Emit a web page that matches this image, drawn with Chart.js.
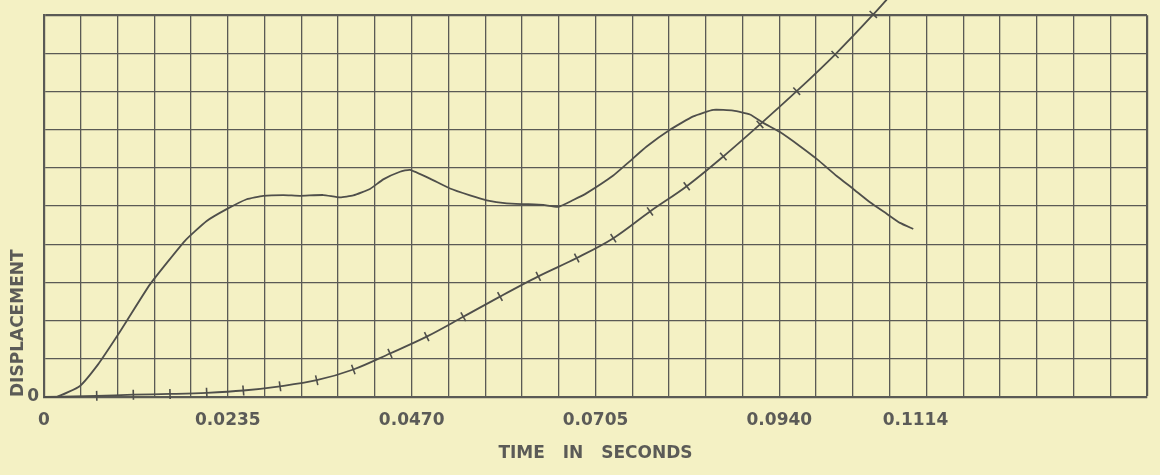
<!DOCTYPE html>
<html>
<head>
<meta charset="utf-8">
<script src="https://cdn.jsdelivr.net/npm/chart.js@4.4.1/dist/chart.umd.min.js"></script>
<style>
  html, body { margin: 0; padding: 0; background: #f3f0c4; }
  canvas { display: block; }
</style>
</head>
<body>
<canvas id="chart" width="1160" height="475"></canvas>
<script>
// Graph paper: one division = 0.0047 s, 30 divisions across, 10 up
const gridStep = 0.0047;
const gridCount = 30;
const dispMax = 10;

// Labelled time ticks
const tickValues = [0, 0.0235, 0.0470, 0.0705, 0.0940, 0.1114];
const tickLabels = ['0', '0.0235', '0.0470', '0.0705', '0.0940', '0.1114'];

// Smooth displacement trace
const traceTime = [
  0, 0.00162, 0.0046, 0.00694, 0.00908, 0.01057, 0.01355, 0.01802, 0.0208,
  0.02335, 0.02591, 0.02803, 0.03059, 0.03272, 0.0357, 0.03784, 0.03954,
  0.04167, 0.04337, 0.04551, 0.04679, 0.04934, 0.0519, 0.05446, 0.05659,
  0.05915, 0.0617, 0.06383, 0.06574, 0.06766, 0.06937, 0.07277, 0.07469,
  0.07704, 0.08002, 0.083, 0.08556, 0.08811, 0.09025, 0.09195, 0.09408,
  0.09664, 0.09881, 0.10133, 0.10345, 0.10559, 0.10772, 0.10942, 0.11112
];
const traceDisp = [
  0, 0.0, 0.29, 0.86, 1.51, 1.99, 2.95, 4.09, 4.61,
  4.92, 5.18, 5.27, 5.29, 5.27, 5.29, 5.23, 5.28,
  5.45, 5.70, 5.90, 5.95, 5.72, 5.46, 5.28, 5.15,
  5.07, 5.05, 5.03, 4.98, 5.16, 5.34, 5.80, 6.14,
  6.56, 7.00, 7.35, 7.52, 7.50, 7.40, 7.18, 6.94,
  6.57, 6.23, 5.79, 5.45, 5.10, 4.80, 4.56, 4.40
];

// Timing-marked trace (a cross mark at each sampled instant)
const markTime = [
  0, 0.00674, 0.01142, 0.01611, 0.0208, 0.02548, 0.03017, 0.03486, 0.03954,
  0.04423, 0.04892, 0.0536, 0.05829, 0.06319, 0.0681, 0.07278, 0.07747,
  0.08216, 0.08684, 0.09153, 0.09622, 0.10112, 0.10601, 0.10773
];
const markDisp = [
  0, 0.03, 0.06, 0.08, 0.11, 0.17, 0.28, 0.44, 0.72,
  1.14, 1.58, 2.10, 2.63, 3.16, 3.64, 4.16, 4.86,
  5.52, 6.30, 7.14, 8.01, 8.97, 10.02, 10.41
];

const ink = '#4f4f4b';
const gridInk = '#5a5a55';
const letterInk = '#5b5b57';
const paper = '#f4f1c4';
const letterFont = { family: 'DejaVu Sans', size: 17, weight: 'bold' };

const near = (a, b) => Math.abs(a - b) < 1e-7;
const onGrid = (v) => { const k = v / gridStep; return Math.abs(k - Math.round(k)) < 1e-6; };

// every grid line, plus label-only positions that fall between lines
const xTickSet = [];
for (let k = 0; k <= gridCount; k++) xTickSet.push(k * gridStep);
tickValues.forEach(v => { if (!onGrid(v)) xTickSet.push(v); });
xTickSet.sort((a, b) => a - b);

const paperPlugin = {
  id: 'paper',
  beforeDraw(chart) {
    const ctx = chart.ctx;
    ctx.save();
    ctx.fillStyle = paper;
    ctx.fillRect(0, 0, chart.width, chart.height);
    ctx.restore();
    ctx.wordSpacing = '12px';
  }
};

new Chart(document.getElementById('chart'), {
  type: 'line',
  data: {
    datasets: [
      {
        data: traceTime.map((t, i) => ({ x: t, y: traceDisp[i] })),
        borderColor: ink,
        borderWidth: 1.8,
        pointRadius: 0,
        tension: 0.15,
        fill: false,
        clip: false
      },
      {
        data: markTime.map((t, i) => ({ x: t, y: markDisp[i] })),
        borderColor: ink,
        borderWidth: 1.8,
        cubicInterpolationMode: 'monotone',
        fill: false,
        clip: false,
        pointStyle: 'line',
        pointRadius: (c) => (c.dataIndex === 0 || c.dataIndex === markTime.length - 1) ? 0 : 5,
        pointBorderWidth: 1.6,
        pointBorderColor: ink,
        pointRotation: (c) => {
          const ch = c.chart;
          const sx = ch.scales && ch.scales.x, sy = ch.scales && ch.scales.y;
          if (!sx || !sy) return 90;
          const i = c.dataIndex;
          const a = Math.max(0, i - 1), b = Math.min(markTime.length - 1, i + 1);
          const dx = sx.getPixelForValue(markTime[b]) - sx.getPixelForValue(markTime[a]);
          const dy = sy.getPixelForValue(markDisp[b]) - sy.getPixelForValue(markDisp[a]);
          return Math.atan2(dy, dx) * 180 / Math.PI + 90;
        }
      }
    ]
  },
  options: {
    responsive: false,
    animation: false,
    events: [],
    layout: { padding: { top: 13, right: 13, left: 0, bottom: 0 } },
    plugins: { legend: { display: false }, tooltip: { enabled: false } },
    scales: {
      x: {
        type: 'linear',
        min: 0,
        max: gridStep * gridCount,
        afterBuildTicks: (s) => { s.ticks = xTickSet.map(v => ({ value: v })); },
        afterFit: (s) => { s.height = 78; },
        grid: {
          color: (c) => (c.tick && onGrid(c.tick.value)) ? gridInk : 'rgba(0,0,0,0)',
          lineWidth: (c) => (c.tick && near(c.tick.value, gridStep * gridCount)) ? 2.2 : 1.3,
          drawTicks: false
        },
        border: { display: true, color: gridInk, width: 2.2 },
        ticks: {
          autoSkip: false,
          maxRotation: 0,
          minRotation: 0,
          padding: 13,
          color: letterInk,
          font: letterFont,
          callback: (v) => {
            const i = tickValues.findIndex(t => near(t, v));
            return i >= 0 ? tickLabels[i] : '';
          }
        },
        title: {
          display: true,
          text: 'TIME IN SECONDS',
          color: letterInk,
          font: letterFont,
          padding: { top: 0, bottom: 11 }
        }
      },
      y: {
        min: 0,
        max: dispMax,
        afterFit: (s) => { s.width = 44; },
        ticks: {
          stepSize: 1,
          padding: 5,
          color: letterInk,
          font: letterFont,
          callback: (v) => (v === 0 ? '0' : '')
        },
        grid: {
          color: gridInk,
          lineWidth: (c) => (c.tick && c.tick.value === dispMax) ? 2.2 : 1.3,
          drawTicks: false
        },
        border: { display: true, color: gridInk, width: 2.2 },
        title: {
          display: true,
          text: 'DISPLACEMENT',
          align: 'start',
          color: letterInk,
          font: letterFont,
          padding: { top: 8, bottom: 0 }
        }
      }
    }
  },
  plugins: [paperPlugin]
});
</script>
</body>
</html>
